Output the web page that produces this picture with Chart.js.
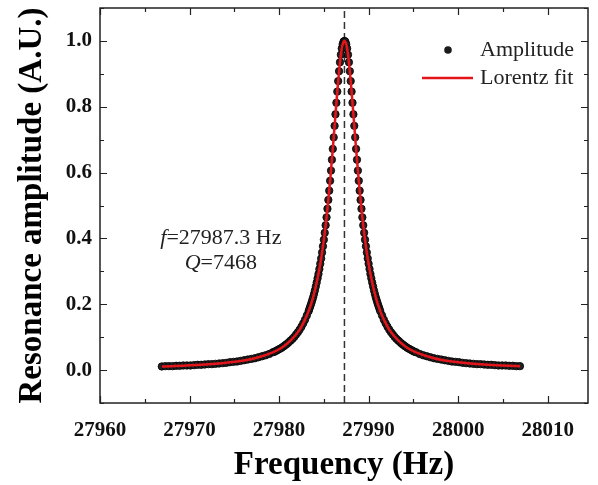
<!DOCTYPE html>
<html>
<head>
<meta charset="utf-8">
<script src="https://cdn.jsdelivr.net/npm/chart.js@4.4.0/dist/chart.umd.min.js"></script>
<style>
  html, body { margin: 0; padding: 0; background: #fff; }
  #wrap { width: 598px; height: 485px; }
</style>
</head>
<body>
<div id="wrap"><canvas id="chart" width="598" height="485"></canvas></div>
<script>
const freq = [
  27966.9, 27967.3, 27967.7, 27968.1, 27968.5, 27968.9, 27969.3, 27969.7, 27970.1, 27970.5,
  27970.9, 27971.3, 27971.7, 27972.1, 27972.5, 27972.9, 27973.3, 27973.7, 27974.1, 27974.5,
  27974.9, 27975.3, 27975.7, 27976.1, 27976.5, 27976.9, 27977.3, 27977.7, 27978.1, 27978.5,
  27978.9,
  27979.3, 27979.5, 27979.7, 27979.9, 27980.1, 27980.3, 27980.5, 27980.7, 27980.9, 27981.1,
  27981.3, 27981.5, 27981.7, 27981.9, 27982.1, 27982.3, 27982.5, 27982.7, 27982.9, 27983.1,
  27983.3, 27983.4, 27983.5, 27983.6, 27983.7, 27983.8, 27983.9, 27984.0, 27984.1, 27984.2,
  27984.3, 27984.4, 27984.5, 27984.6, 27984.7, 27984.8, 27984.9, 27985.0, 27985.1, 27985.2,
  27985.3, 27985.4, 27985.5, 27985.6, 27985.7, 27985.8, 27985.9, 27986.0, 27986.1, 27986.2,
  27986.3, 27986.4, 27986.5, 27986.6, 27986.7, 27986.8, 27986.9, 27987.0, 27987.1, 27987.2,
  27987.3,
  27987.4, 27987.5, 27987.6, 27987.7, 27987.8, 27987.9, 27988.0, 27988.1, 27988.2, 27988.3,
  27988.4, 27988.5, 27988.6, 27988.7, 27988.8, 27988.9, 27989.0, 27989.1, 27989.2, 27989.3,
  27989.4, 27989.5, 27989.6, 27989.7, 27989.8, 27989.9, 27990.0, 27990.1, 27990.2, 27990.3,
  27990.4, 27990.5, 27990.6, 27990.7, 27990.8, 27990.9, 27991.0, 27991.1, 27991.2, 27991.3,
  27991.5, 27991.7, 27991.9, 27992.1, 27992.3, 27992.5, 27992.7, 27992.9, 27993.1, 27993.3,
  27993.5, 27993.7, 27993.9, 27994.1, 27994.3, 27994.5, 27994.7, 27994.9, 27995.1, 27995.3,
  27995.7, 27996.1, 27996.5, 27996.9, 27997.3, 27997.7, 27998.1, 27998.5, 27998.9, 27999.3,
  27999.7, 28000.1, 28000.5, 28000.9, 28001.3, 28001.7, 28002.1, 28002.5, 28002.9, 28003.3,
  28003.7, 28004.1, 28004.5, 28004.9, 28005.3, 28005.7, 28006.1, 28006.5, 28006.9
];
const amp = [
  0.011, 0.012, 0.012, 0.012, 0.013, 0.013, 0.014, 0.014, 0.014, 0.015,
  0.016, 0.016, 0.017, 0.018, 0.018, 0.019, 0.020, 0.021, 0.022, 0.024,
  0.025, 0.026, 0.028, 0.030, 0.032, 0.034, 0.036, 0.039, 0.042, 0.045,
  0.049,
  0.054, 0.056, 0.059, 0.062, 0.065, 0.068, 0.072, 0.076, 0.080, 0.085,
  0.090, 0.095, 0.101, 0.108, 0.115, 0.123, 0.132, 0.142, 0.153, 0.166,
  0.179, 0.187, 0.195, 0.203, 0.212, 0.221, 0.231, 0.242, 0.254, 0.266,
  0.279, 0.292, 0.307, 0.323, 0.339, 0.357, 0.376, 0.396, 0.417, 0.440,
  0.464, 0.490, 0.517, 0.545, 0.575, 0.606, 0.639, 0.672, 0.707, 0.742,
  0.777, 0.812, 0.846, 0.878, 0.908, 0.935, 0.958, 0.977, 0.990, 0.998,
  1.000,
  0.998, 0.990, 0.977, 0.958, 0.935, 0.908, 0.878, 0.846, 0.812, 0.777,
  0.742, 0.707, 0.672, 0.639, 0.606, 0.575, 0.545, 0.517, 0.490, 0.464,
  0.440, 0.417, 0.396, 0.376, 0.357, 0.339, 0.323, 0.307, 0.292, 0.279,
  0.266, 0.254, 0.242, 0.231, 0.221, 0.212, 0.203, 0.195, 0.187, 0.179,
  0.166, 0.153, 0.142, 0.132, 0.123, 0.115, 0.108, 0.101, 0.095, 0.090,
  0.085, 0.080, 0.076, 0.072, 0.068, 0.065, 0.062, 0.059, 0.056, 0.054,
  0.049, 0.045, 0.042, 0.039, 0.036, 0.034, 0.032, 0.030, 0.028, 0.026,
  0.025, 0.024, 0.022, 0.021, 0.020, 0.019, 0.018, 0.018, 0.017, 0.016,
  0.016, 0.015, 0.014, 0.014, 0.014, 0.013, 0.013, 0.012, 0.012
];

// Lorentz fit curve
const fitFreq = [
  27966.9, 27971.3, 27975.3, 27977.3, 27979.3, 27980.3, 27981.3, 27982.3, 27982.8, 27983.3,
  27983.8, 27984.3, 27984.7, 27985.1, 27985.4, 27985.7, 27986.0, 27986.3, 27986.5, 27986.7,
  27986.9, 27987.1, 27987.3, 27987.5, 27987.7, 27987.9, 27988.1, 27988.3, 27988.6, 27988.9,
  27989.2, 27989.5, 27989.9, 27990.3, 27990.8, 27991.3, 27991.8, 27992.3, 27993.3, 27994.3,
  27995.3, 27997.3, 27999.3, 28003.3, 28006.9
];
const fitAmp = [
  0.011, 0.016, 0.026, 0.036, 0.054, 0.068, 0.090, 0.123, 0.148, 0.179,
  0.221, 0.279, 0.339, 0.417, 0.490, 0.575, 0.672, 0.777, 0.846, 0.908,
  0.958, 0.990, 1.000, 0.990, 0.958, 0.908, 0.846, 0.777, 0.672, 0.575,
  0.490, 0.417, 0.339, 0.279, 0.221, 0.179, 0.148, 0.123, 0.090, 0.068,
  0.054, 0.036, 0.026, 0.016, 0.012
];

const resonance = 27987.3;
const xTicksMajor = [27960, 27970, 27980, 27990, 28000, 28010];
const yTicksMajor = [0.0, 0.2, 0.4, 0.6, 0.8, 1.0];
const xMin = 27960, xMax = 28014.5;
const yMin = -0.1, yMax = 1.1;

const serif = '"Liberation Serif", "Times New Roman", serif';
Chart.defaults.font.family = serif;
Chart.defaults.color = '#000';

function isMajor(list, v) {
  return list.some(t => Math.abs(t - v) < 1e-6);
}

// inward ticks on all four sides + frame
const frameTicks = {
  id: 'frameTicks',
  afterDatasetsDraw(chart) {
    const ctx = chart.ctx;
    const a = chart.chartArea;
    const xs = chart.scales.x, ys = chart.scales.y;
    ctx.save();
    ctx.strokeStyle = '#222';
    ctx.lineWidth = 1.5;
    ctx.strokeRect(a.left, a.top, a.right - a.left, a.bottom - a.top);
    ctx.lineWidth = 1.2;
    ctx.beginPath();
    xs.ticks.forEach(t => {
      const px = Math.round(xs.getPixelForValue(t.value)) + 0.5;
      const len = isMajor(xTicksMajor, t.value) ? 7 : 4;
      ctx.moveTo(px, a.bottom); ctx.lineTo(px, a.bottom - len);
      ctx.moveTo(px, a.top); ctx.lineTo(px, a.top + len);
    });
    ys.ticks.forEach(t => {
      const py = Math.round(ys.getPixelForValue(t.value)) + 0.5;
      const len = isMajor(yTicksMajor, t.value) ? 7 : 4;
      ctx.moveTo(a.left, py); ctx.lineTo(a.left + len, py);
      ctx.moveTo(a.right, py); ctx.lineTo(a.right - len, py);
    });
    ctx.stroke();
    ctx.restore();
  },
  afterDraw(chart) {
    const ctx = chart.ctx;
    const xs = chart.scales.x, ys = chart.scales.y;
    ctx.save();
    ctx.fillStyle = '#222';
    ctx.textBaseline = 'middle';

    // annotation f = ..., Q = ...
    const cx = xs.getPixelForValue(27973.5);
    const drawMixed = (parts, y) => {
      let w = 0;
      parts.forEach(p => { ctx.font = p.font; w += ctx.measureText(p.text).width; });
      let x = cx - w / 2;
      parts.forEach(p => {
        ctx.font = p.font;
        ctx.textAlign = 'left';
        ctx.fillText(p.text, x, y);
        x += ctx.measureText(p.text).width;
      });
    };
    const it = 'italic 22px ' + serif, rg = '22px ' + serif;
    drawMixed([{ text: 'f', font: it }, { text: '=27987.3 Hz', font: rg }], ys.getPixelForValue(0.40));
    drawMixed([{ text: 'Q', font: it }, { text: '=7468', font: rg }], ys.getPixelForValue(0.325));

    // legend
    const a = chart.chartArea;
    const lx = a.right - 108, ly1 = a.top + 42, ly2 = a.top + 70;
    ctx.font = rg;
    ctx.textAlign = 'left';
    ctx.fillText('Amplitude', lx, ly1);
    ctx.fillText('Lorentz fit', lx, ly2);
    ctx.beginPath();
    ctx.arc(lx - 32, ly1, 3.8, 0, Math.PI * 2);
    ctx.fillStyle = '#1b1b1b';
    ctx.fill();
    ctx.strokeStyle = '#e4141b';
    ctx.lineWidth = 2.5;
    ctx.beginPath();
    ctx.moveTo(lx - 58, ly2); ctx.lineTo(lx - 7, ly2);
    ctx.stroke();
    ctx.restore();
  }
};

new Chart(document.getElementById('chart'), {
  type: 'scatter',
  data: {
    datasets: [
      {
        label: 'Lorentz fit',
        type: 'line',
        data: fitFreq.map((f, i) => ({ x: f, y: fitAmp[i] })),
        borderColor: '#e4141b',
        borderWidth: 2.5,
        pointRadius: 0,
        cubicInterpolationMode: 'monotone',
        fill: false,
        order: 0
      },
      {
        label: 'Amplitude',
        data: freq.map((f, i) => ({ x: f, y: amp[i] })),
        backgroundColor: '#242020',
        borderColor: '#000',
        borderWidth: 0.8,
        pointRadius: 3.7,
        order: 1
      },
      {
        label: 'f0',
        type: 'line',
        data: [{ x: resonance, y: yMin }, { x: resonance, y: yMax }],
        borderColor: '#333',
        borderWidth: 1.5,
        borderDash: [7, 4],
        pointRadius: 0,
        order: 2
      }
    ]
  },
  options: {
    responsive: false,
    animation: false,
    devicePixelRatio: 1,
    layout: { padding: { top: 8, right: 10, left: 0, bottom: 0 } },
    plugins: {
      legend: { display: false },
      tooltip: { enabled: false }
    },
    scales: {
      x: {
        type: 'linear',
        min: xMin,
        max: xMax,
        grid: { display: false, drawTicks: false },
        border: { display: false },
        ticks: {
          stepSize: 5,
          includeBounds: false,
          padding: 15,
          color: '#111',
          font: { size: 21, weight: 'bold' },
          maxRotation: 0,
          autoSkip: false,
          callback: v => isMajor(xTicksMajor, v) ? String(v) : ''
        },
        title: {
          display: true,
          text: 'Frequency (Hz)',
          color: '#000',
          font: { size: 33, weight: 'bold' },
          padding: { top: 4, bottom: 0 }
        },
        afterFit: s => { s.height = 82; s.paddingLeft = 0; s.paddingRight = 0; }
      },
      y: {
        min: yMin,
        max: yMax,
        grid: { display: false, drawTicks: false },
        border: { display: false },
        ticks: {
          stepSize: 0.1,
          padding: 8,
          color: '#111',
          font: { size: 21, weight: 'bold' },
          autoSkip: false,
          callback: v => isMajor(yTicksMajor, v) ? v.toFixed(1) : ''
        },
        title: {
          display: true,
          text: 'Resonance amplitude (A.U.)',
          color: '#000',
          font: { size: 33, weight: 'bold' },
          padding: { top: 13, bottom: 4 }
        },
        afterFit: s => { s.width = 100; s.paddingTop = 0; s.paddingBottom = 0; }
      }
    }
  },
  plugins: [frameTicks]
});
</script>
</body>
</html>
